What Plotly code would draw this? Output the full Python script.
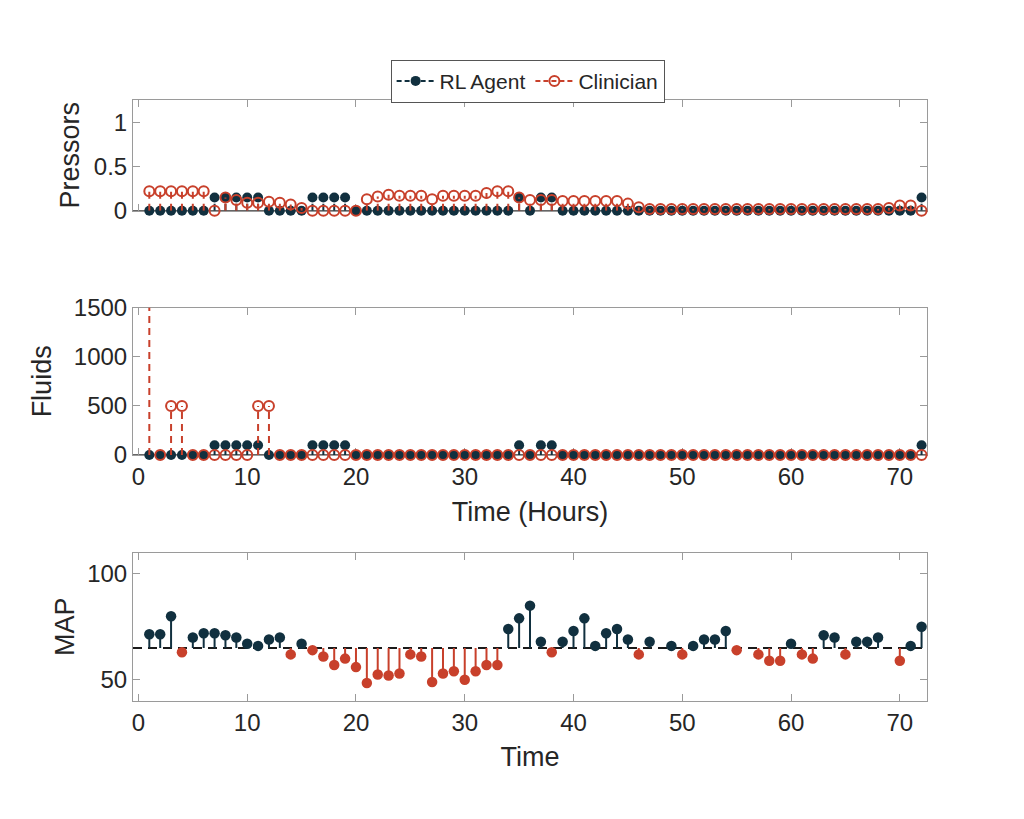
import plotly.graph_objects as go

# ---------------- data ----------------
time = list(range(1, 73))

pressors_rl = [0, 0, 0, 0, 0, 0, 0.15, 0.15, 0.15, 0.15, 0.15, 0, 0, 0, 0, 0.15, 0.15, 0.15, 0.15, 0,
               0, 0, 0, 0, 0, 0, 0, 0, 0, 0, 0, 0, 0, 0, 0.15, 0, 0.15, 0.15, 0, 0,
               0, 0, 0, 0, 0, 0, 0, 0, 0, 0, 0, 0, 0, 0, 0, 0, 0, 0, 0, 0,
               0, 0, 0, 0, 0, 0, 0, 0, 0, 0, 0, 0.15]
pressors_clin = [0.22, 0.22, 0.22, 0.22, 0.22, 0.22, 0, 0.15, 0.12, 0.09, 0.09, 0.10, 0.09, 0.07, 0.03, 0, 0, 0, 0, 0,
                 0.13, 0.16, 0.18, 0.17, 0.17, 0.17, 0.13, 0.17, 0.17, 0.17, 0.17, 0.20, 0.22, 0.22, 0.15, 0.12, 0.12, 0.12, 0.11, 0.11,
                 0.11, 0.11, 0.11, 0.11, 0.08, 0.04, 0.02, 0.02, 0.02, 0.02, 0.02, 0.02, 0.02, 0.02, 0.02, 0.02, 0.02, 0.02, 0.02, 0.02,
                 0.02, 0.02, 0.02, 0.02, 0.02, 0.02, 0.02, 0.02, 0.03, 0.06, 0.06, 0]

fluids_rl = [0, 0, 0, 0, 0, 0, 100, 100, 100, 100, 100, 0, 0, 0, 0, 100, 100, 100, 100, 0,
             0, 0, 0, 0, 0, 0, 0, 0, 0, 0, 0, 0, 0, 0, 100, 0, 100, 100, 0, 0,
             0, 0, 0, 0, 0, 0, 0, 0, 0, 0, 0, 0, 0, 0, 0, 0, 0, 0, 0, 0,
             0, 0, 0, 0, 0, 0, 0, 0, 0, 0, 0, 100]
fluids_clin = [2000, 0, 500, 500, 0, 0, 0, 0, 0, 0, 500, 500, 0, 0, 0, 0, 0, 0, 0, 0,
               0, 0, 0, 0, 0, 0, 0, 0, 0, 0, 0, 0, 0, 0, 0, 0, 0, 0, 0, 0,
               0, 0, 0, 0, 0, 0, 0, 0, 0, 0, 0, 0, 0, 0, 0, 0, 0, 0, 0, 0,
               0, 0, 0, 0, 0, 0, 0, 0, 0, 0, 0, 0]

map_values = [71.5, 71.5, 80, 63, 70, 72, 72, 71, 70, 67, 66, 69, 70, 62, 67, 64, 61, 57, 60, 56,
              48.5, 52.5, 52, 53, 62, 61, 49, 53, 54, 50, 54, 57, 57, 74, 79, 85, 68, 63, 68, 73,
              79, 66, 72, 74, 69, 62, 68, None, 66, 62, 66, 69, 69, 73, 64, None, 62, 59, 59, 67,
              62, 60, 71, 70, 62, 68, 68, 70, None, 59, 66, 75]
map_threshold = 65

x_ticks = [0, 10, 20, 30, 40, 50, 60, 70]
pressor_ticks = [0, 0.5, 1]
fluid_ticks = [0, 500, 1000, 1500]
map_ticks = [50, 100]

X_RANGE = [-0.5, 72.5]
P_RANGE = [0, 1.25]
F_RANGE = [0, 1500]
M_RANGE = [40, 110]

DARK = "#11303f"
RED = "#c8402b"
AXC = "#9a9a9a"
TXT = "#262626"
FONT = "Liberation Sans, Arial, Helvetica, sans-serif"


def stem_xy(xs, ys, base):
    sx, sy = [], []
    for x, y in zip(xs, ys):
        if y is None:
            continue
        sx += [x, x, None]
        sy += [base, y, None]
    return sx, sy


def visible(xs, ys, rng):
    px, py = [], []
    for x, y in zip(xs, ys):
        if y is None or y < rng[0] or y > rng[1]:
            continue
        px.append(x)
        py.append(y)
    return px, py


fig = go.Figure()

DASH = "7px,5px"


def add_stem_panel(rl_vals, clin_vals, xa, ya, rng):
    for vals, color, filled in [(rl_vals, DARK, True), (clin_vals, RED, False)]:
        sx, sy = stem_xy(time, vals, 0)
        fig.add_trace(go.Scatter(x=sx, y=sy, mode="lines", xaxis=xa, yaxis=ya,
                                 line=dict(color=color, width=2, dash=DASH),
                                 showlegend=False, hoverinfo="skip"))
        px, py = visible(time, vals, rng)
        if filled:
            mk = dict(symbol="circle", size=10, color=color, line=dict(width=0))
        else:
            mk = dict(symbol="circle-open", size=10, color=color, line=dict(width=2, color=color))
        fig.add_trace(go.Scatter(x=px, y=py, mode="markers", xaxis=xa, yaxis=ya,
                                 marker=mk, cliponaxis=False, showlegend=False))


# ---------- top: pressors ----------
add_stem_panel(pressors_rl, pressors_clin, "x", "y", P_RANGE)
# ---------- middle: fluids ----------
add_stem_panel(fluids_rl, fluids_clin, "x2", "y2", F_RANGE)

# ---------- bottom: MAP ----------
above = [v if (v is not None and v > map_threshold) else None for v in map_values]
below = [v if (v is not None and v < map_threshold) else None for v in map_values]
for vals, color in [(above, DARK), (below, RED)]:
    sx, sy = stem_xy(time, vals, map_threshold)
    fig.add_trace(go.Scatter(x=sx, y=sy, mode="lines", xaxis="x3", yaxis="y3",
                             line=dict(color=color, width=2),
                             showlegend=False, hoverinfo="skip"))
    px, py = visible(time, vals, M_RANGE)
    fig.add_trace(go.Scatter(x=px, y=py, mode="markers", xaxis="x3", yaxis="y3",
                             marker=dict(symbol="circle", size=10.5, color=color, line=dict(width=0)),
                             cliponaxis=False, showlegend=False))

# ---------- legend entries ----------
fig.add_trace(go.Scatter(x=[None], y=[None], mode="lines+markers", name="RL Agent",
                         line=dict(color=DARK, width=2, dash="5px,3px"),
                         marker=dict(symbol="circle", size=10, color=DARK)))
fig.add_trace(go.Scatter(x=[None], y=[None], mode="lines+markers", name="Clinician",
                         line=dict(color=RED, width=2, dash="5px,3px"),
                         marker=dict(symbol="circle-open", size=10, color=RED, line=dict(width=2, color=RED))))

# ---------- baselines ----------
fig.add_shape(type="line", xref="x", yref="y", x0=X_RANGE[0], x1=X_RANGE[1], y0=0, y1=0,
              line=dict(color="#333333", width=1.5), layer="below")
fig.add_shape(type="line", xref="x2", yref="y2", x0=X_RANGE[0], x1=X_RANGE[1], y0=0, y1=0,
              line=dict(color="#333333", width=1.5), layer="below")
fig.add_shape(type="line", xref="x3", yref="y3", x0=X_RANGE[0], x1=X_RANGE[1],
              y0=map_threshold, y1=map_threshold,
              line=dict(color="#1a1a1a", width=2, dash="9px,6px"), layer="below")

common_axis = dict(showline=True, linecolor=AXC, linewidth=1, mirror="ticks",
                   ticks="inside", ticklen=7, tickwidth=1, tickcolor=AXC,
                   showgrid=False, zeroline=False, layer="below traces",
                   tickfont=dict(size=24, color=TXT, family=FONT))

top_dom = [0.8158, 1.0]
mid_dom = [0.4093, 0.6544]
bot_dom = [0.0, 0.2468]

TITLE_FONT = dict(size=27, color=TXT, family=FONT)

fig.update_layout(
    width=1016, height=811,
    margin=dict(l=125, r=97, t=92, b=118),
    paper_bgcolor="white", plot_bgcolor="white",
    font=dict(family=FONT, color=TXT),
    showlegend=True,
    legend=dict(orientation="h", x=0.497, xanchor="center", y=1.067, yanchor="top",
                bgcolor="white", bordercolor="#555555", borderwidth=1,
                font=dict(size=21, color=TXT, family=FONT), itemwidth=38,
                tracegroupgap=0),
    xaxis=dict(common_axis, domain=[0, 1], range=X_RANGE, tickvals=x_ticks,
               showticklabels=False, anchor="y"),
    yaxis=dict(common_axis, domain=top_dom, range=P_RANGE, tickvals=pressor_ticks,
               ticktext=["0", "0.5", "1"], anchor="x",
               title=dict(text="Pressors", font=TITLE_FONT, standoff=6)),
    xaxis2=dict(common_axis, domain=[0, 1], range=X_RANGE, tickvals=x_ticks, anchor="y2",
                title=dict(text="Time (Hours)", font=TITLE_FONT, standoff=13)),
    yaxis2=dict(common_axis, domain=mid_dom, range=F_RANGE, tickvals=fluid_ticks, anchor="x2",
                title=dict(text="Fluids", font=TITLE_FONT, standoff=14)),
    xaxis3=dict(common_axis, domain=[0, 1], range=X_RANGE, tickvals=x_ticks, anchor="y3",
                title=dict(text="Time", font=TITLE_FONT, standoff=12)),
    yaxis3=dict(common_axis, domain=bot_dom, range=M_RANGE, tickvals=map_ticks, anchor="x3",
                title=dict(text="MAP", font=TITLE_FONT, standoff=4)),
)

fig.write_html("out.html")
